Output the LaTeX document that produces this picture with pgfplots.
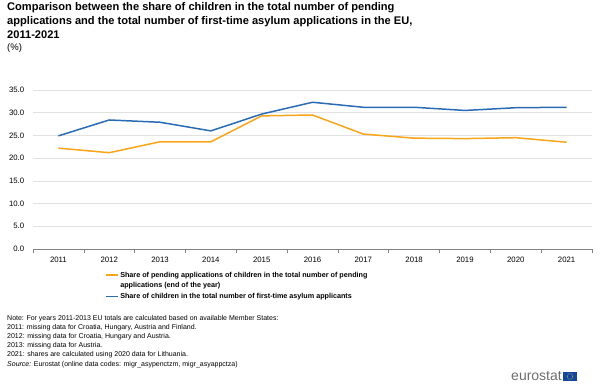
\documentclass[border=0pt]{standalone}
\usepackage{pgfplots}
\pgfplotsset{compat=1.18}
\usepackage{fontspec}
\setmainfont{Liberation Sans}
\definecolor{esorange}{RGB}{250,165,25}
\definecolor{esblue}{RGB}{42,108,180}
\definecolor{flagblue}{RGB}{20,70,160}
\definecolor{gridgray}{RGB}{225,225,225}
\definecolor{axisgray}{RGB}{130,130,130}
\definecolor{logogray}{RGB}{110,110,110}
\begin{document}
\begin{tikzpicture}
\useasboundingbox (0pt,0pt) rectangle (600pt,386pt);
% title
\node[anchor=north west,inner sep=0pt,align=left,font=\fontsize{11.1}{14}\selectfont\bfseries] at (7pt,384pt)
 {Comparison between the share of children in the total number of pending\\applications and the total number of first-time asylum applications in the EU,\\2011-2021};
\node[anchor=north west,inner sep=0pt,font=\fontsize{9.5}{11}\selectfont] at (7pt,343pt) {(\%)};
\begin{axis}[
  at={(33pt,137pt)}, anchor=south west,
  scale only axis, width=559pt, height=159pt,
  xmin=-0.5, xmax=10.5, ymin=0, ymax=35,
  axis lines*=left,
  y axis line style={draw=none},
  x axis line style={draw=axisgray, line width=0.8pt},
  xtick={0,...,10},
  xticklabels={2011,2012,2013,2014,2015,2016,2017,2018,2019,2020,2021},
  minor xtick={-0.5,0.5,...,10.5},
  major x tick style={draw=none},
  minor x tick style={draw=axisgray, line width=0.6pt},
  minor tick length=4pt,
  tick align=outside,
  ytick={0,5,...,35},
  ytick style={draw=none},
  ymajorgrids, grid style={draw=gridgray, line width=0.6pt},
  /pgf/number format/fixed, /pgf/number format/fixed zerofill, /pgf/number format/precision=1,
  /pgf/number format/assume math mode=true,
  ticklabel style={font=\fontsize{7.8}{9}\selectfont},
  yticklabel style={xshift=-1pt},
  xticklabel style={yshift=-0.5pt},
  legend style={at={(0.128,-0.13)}, anchor=north west, draw=none, fill=none,
     font=\fontsize{7.2}{9}\selectfont\bfseries, row sep=0pt, inner sep=0pt,
     cells={anchor=west}},
  legend image code/.code={\draw[#1] (0pt,0pt) -- (12pt,0pt);},
  legend cell align=left,
]
\addplot[esorange, line width=1.5pt] coordinates {
 (0,22.2) (1,21.2) (2,23.6) (3,23.6) (4,29.3) (5,29.5) (6,25.3) (7,24.4) (8,24.3) (9,24.5) (10,23.5)};
\addlegendentry{Share of pending applications of children in the total number of pending}
\addlegendimage{empty legend}
\addlegendentry{applications (end of the year)}
\addplot[esblue, line width=1.5pt] coordinates {
 (0,24.9) (1,28.4) (2,27.9) (3,26.0) (4,29.7) (5,32.3) (6,31.2) (7,31.2) (8,30.5) (9,31.1) (10,31.2)};
\addlegendentry{Share of children in the total number of first-time asylum applicants}
\end{axis}
% notes
\node[anchor=north west,inner sep=0pt,align=left,font=\fontsize{7}{9}\selectfont] at (7pt,71pt)
 {Note: For years 2011-2013 EU totals are calculated based on available Member States:\\
 2011: missing data for Croatia, Hungary, Austria and Finland.\\
 2012: missing data for Croatia, Hungary and Austria.\\
 2013: missing data for Austria.\\
 2021: shares are calculated using 2020 data for Lithuania.\\[1.5pt]
 \textit{Source:} Eurostat (online data codes: migr\_asypenctzm, migr\_asyappctza)};
% logo
\node[anchor=east,inner sep=0pt,text=logogray,font=\fontsize{14}{15}\selectfont] at (562pt,10pt) {eurostat};
\fill[flagblue] (563pt,5pt) rectangle (577pt,14pt);
\foreach \a in {0,30,...,330} \fill[yellow] ({570pt+2.8pt*cos(\a)},{9.5pt+2.8pt*sin(\a)}) circle (0.35pt);
\end{tikzpicture}
\end{document}
